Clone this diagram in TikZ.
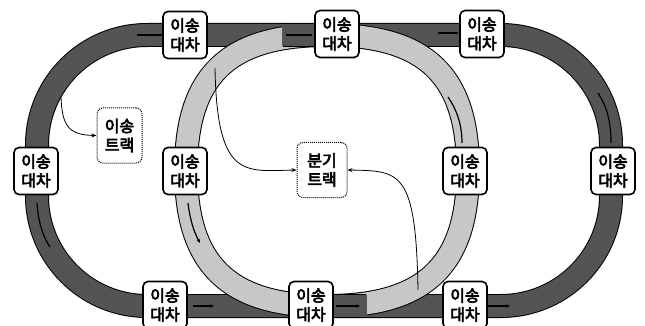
\documentclass[tikz,border=0pt]{standalone}
\usepackage{fontspec}
\newfontfamily\kr{Noto Sans CJK KR}[FakeBold=4]
\usetikzlibrary{arrows.meta}
\definecolor{darkband}{gray}{0.33}
\definecolor{lightband}{gray}{0.78}
\newcommand\ringshape{(186,170) .. controls (186,75.5) and (228,35) .. (327,35)
  .. controls (426,35) and (468,75.5) .. (468,170)
  .. controls (468,264.5) and (426,306) .. (327,306)
  .. controls (228,306) and (186,264.5) .. (186,170) -- cycle}
\begin{document}
\begin{tikzpicture}[x=1pt,y=-1pt,
  cart/.style={draw=black, line width=1.6pt, fill=white, rounded corners=5pt,
    minimum width=44pt, minimum height=47pt, inner sep=0pt, align=center,
    font=\kr\fontsize{16}{19}\selectfont},
  trackbox/.style={draw=black, densely dotted, line width=1pt, fill=white, rounded corners=6pt,
    minimum width=45pt, minimum height=55pt, inner sep=0pt, align=center,
    font=\kr\fontsize{16}{19}\selectfont},
  bandedge/.style={line width=24pt, black},
  darkfill/.style={line width=22pt, darkband},
  lightfill/.style={line width=22pt, lightband},
  conn/.style={line width=0.8pt, black, -{Stealth[length=5pt,width=4pt]}},
  dirline/.style={line width=1.2pt, black},
  dirarrow/.style={line width=1.2pt, black, -{Stealth[length=4pt,width=3.5pt]}}
]
\useasboundingbox (0,0) rectangle (645,326);
% outer track
\draw[bandedge, rounded corners=110pt] (37,35) rectangle (611,306);
\draw[darkfill, rounded corners=110pt] (37,35) rectangle (611,306);
% inner ring
\draw[bandedge] \ringshape;
\draw[lightfill] \ringshape;
% dark patches over the ring
\draw[bandedge] (283,35) -- (316,35);
\draw[darkfill] (282,35) -- (317,35);
\draw[bandedge] (334,306) -- (366,306);
\draw[darkfill] (333,306) -- (367,306);
% direction marks
\draw[dirline] (162,35) -- (137,35);
\draw[dirline] (312,35) -- (286,35);
\draw[dirline] (458,33) -- (438,33);
\draw[dirline] (611,143) .. controls (611,120) and (606,105) .. (598,93);
\draw[dirline] (462,143) .. controls (462,125) and (457,110) .. (448,97);
\draw[dirline] (37,203) .. controls (38,220) and (42,235) .. (50,247);
\draw[dirarrow] (188,203) .. controls (190,220) and (194,232) .. (200,243);
\draw[dirarrow] (193,306) -- (214,306);
\draw[dirarrow] (336,306) -- (360,306);
\draw[dirarrow] (488,306) -- (510,306);
% carts
\node[cart] (c1) at (185,35) {이송\\대차};
\node[cart] (c2) at (337,34) {이송\\대차};
\node[cart] (c3) at (482,34) {이송\\대차};
\node[cart] (c4) at (36,171) {이송\\대차};
\node[cart] (c5) at (185,171) {이송\\대차};
\node[cart] (c6) at (465,171) {이송\\대차};
\node[cart] (c7) at (613,171) {이송\\대차};
\node[cart] (c8) at (165,305) {이송\\대차};
\node[cart] (c9) at (311,305) {이송\\대차};
\node[cart] (c10) at (465,305) {이송\\대차};
% track boxes
\node[trackbox] (t1) at (119.5,135.5) {이송\\트랙};
\node[trackbox, minimum width=50pt] (t2) at (322,170) {분기\\트랙};
% connectors
\coordinate (s1) at (61,97);
\coordinate (s2) at (215,68);
\coordinate (s3) at (418,290);
\draw[conn] (s1) .. controls (62,125) and (68,135) .. (t1.west);
\draw[conn] (s2) .. controls (217,180) and (245,171) .. (t2.west);
\draw[conn] (s3) .. controls (416,170) and (400,171) .. (t2.east);
\end{tikzpicture}
\end{document}
